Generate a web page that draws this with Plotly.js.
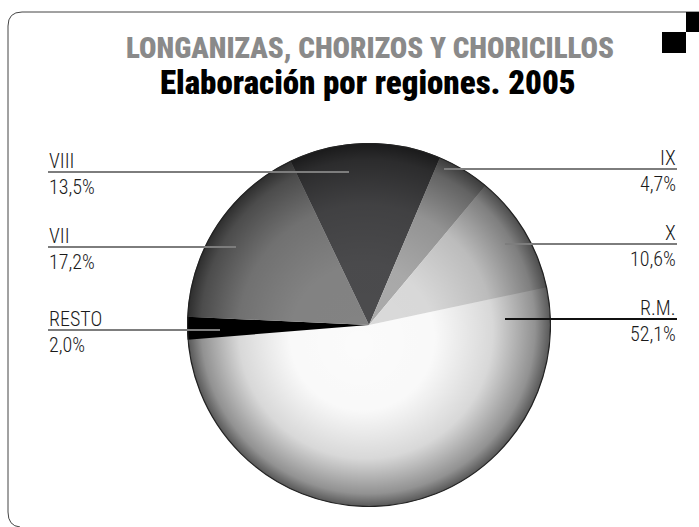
<!DOCTYPE html>
<html><head><meta charset="utf-8">
<script src="https://cdn.plot.ly/plotly-3.0.1.min.js"></script>
<style>html,body{margin:0;padding:0;background:#fff}#chart{width:699px;height:527px}</style>
</head><body><div id="chart"></div><script>
// ---- data ----
const regions = ['R.M.', 'RESTO', 'VII', 'VIII', 'IX', 'X'];
const shares = [52.1, 2.0, 17.2, 13.5, 4.7, 10.6];
const shareLabels = ['52,1%', '2,0%', '17,2%', '13,5%', '4,7%', '10,6%'];
const titleLine1 = 'LONGANIZAS, CHORIZOS Y CHORICILLOS';
const titleLine2 = 'Elaboración por regiones. 2005';

// ---- styles ----
const sliceColors = ['#fbfbfb', '#000000', '#838383', '#4b4b4d', '#aaaaaa', '#dadada'];
const W = 699, H = 527;
const px = x => x / W;
const py = y => 1 - y / H;
const FONT = '"Roboto Condensed", Roboto, sans-serif';

// label placement (pixels): side, y of leader line, inner end x
const labelPlace = {
  'VIII':  {side: 'left',  y: 172, inner: 349, color: '#7d7d7d'},
  'VII':   {side: 'left',  y: 247, inner: 236, color: '#7d7d7d'},
  'RESTO': {side: 'left',  y: 330, inner: 220, color: '#7d7d7d'},
  'IX':    {side: 'right', y: 169, inner: 444, color: '#7d7d7d'},
  'X':     {side: 'right', y: 244, inner: 505, color: '#7d7d7d'},
  'R.M.':  {side: 'right', y: 319, inner: 505, color: '#111111'}
};
const LEFT_X = 48, RIGHT_X = 677;

const cx = 369, cy = 325, R = 182;

const shapes = [];
const annotations = [];
regions.forEach((reg, i) => {
  const p = labelPlace[reg];
  const outer = p.side === 'left' ? LEFT_X : RIGHT_X;
  shapes.push({type: 'line', xref: 'paper', yref: 'paper',
    x0: px(outer), x1: px(p.inner), y0: py(p.y), y1: py(p.y),
    line: {color: p.color, width: 2}});
  const anchor = p.side === 'left' ? 'left' : 'right';
  annotations.push({xref: 'paper', yref: 'paper', x: px(outer), y: py(p.y + 2),
    xanchor: anchor, yanchor: 'bottom', showarrow: false, text: reg,
    font: {family: FONT, size: 20, weight: 300, color: '#1a1a1a'}, borderpad: 0});
  annotations.push({xref: 'paper', yref: 'paper', x: px(outer), y: py(p.y + 2),
    xanchor: anchor, yanchor: 'top', showarrow: false, text: shareLabels[i],
    font: {family: FONT, size: 20, weight: 300, color: '#1a1a1a'}, borderpad: 0});
});

// titles
annotations.push({xref: 'paper', yref: 'paper', x: px(370), y: py(48), xanchor: 'center', yanchor: 'middle',
  showarrow: false, text: titleLine1, font: {family: FONT, size: 29, weight: 900, color: '#8a8a8a'}});
annotations.push({xref: 'paper', yref: 'paper', x: px(368), y: py(83), xanchor: 'center', yanchor: 'middle',
  showarrow: false, text: titleLine2, font: {family: FONT, size: 33, weight: 900, color: '#000'}});

// frame with rounded corners
const framePath = `M ${px(699)} ${py(12)} L ${px(22)} ${py(12)} Q ${px(8)} ${py(12)} ${px(8)} ${py(26)} L ${px(8)} ${py(512)} Q ${px(8)} ${py(526)} ${px(20)} ${py(527)}`;
shapes.push({type: 'path', xref: 'paper', yref: 'paper', path: framePath, line: {color: '#444', width: 1}});
// corner squares
shapes.push({type: 'rect', xref: 'paper', yref: 'paper', x0: px(686), x1: px(699), y0: py(12), y1: py(32), fillcolor: '#000', line: {width: 0}});
shapes.push({type: 'rect', xref: 'paper', yref: 'paper', x0: px(662), x1: px(686), y0: py(32), y1: py(53), fillcolor: '#000', line: {width: 0}});

// spherical shading overlay
const svg = `<svg xmlns='http://www.w3.org/2000/svg' width='364' height='364' viewBox='0 0 364 364'><defs><radialGradient id='g' cx='0.5' cy='0.5' r='0.5' fx='0.47' fy='0.56'><stop offset='0' stop-color='#000' stop-opacity='0'/><stop offset='0.4' stop-color='#000' stop-opacity='0.01'/><stop offset='0.7' stop-color='#000' stop-opacity='0.14'/><stop offset='0.92' stop-color='#000' stop-opacity='0.42'/><stop offset='1' stop-color='#000' stop-opacity='0.65'/></radialGradient></defs><circle cx='182' cy='182' r='181.5' fill='url(#g)' stroke='#222' stroke-width='1.2'/></svg>`;
const images = [{source: 'data:image/svg+xml;charset=utf-8,' + encodeURIComponent(svg),
  xref: 'paper', yref: 'paper', x: px(cx - R), y: py(cy - R), sizex: 2 * R / W, sizey: 2 * R / H,
  xanchor: 'left', yanchor: 'top', sizing: 'stretch', layer: 'above'}];

const trace = {
  type: 'pie', values: shares, labels: regions, sort: false, direction: 'clockwise', rotation: 78,
  marker: {colors: sliceColors, line: {width: 0}}, textinfo: 'none', hoverinfo: 'none',
  domain: {x: [px(cx - R), px(cx + R)], y: [py(cy + R), py(cy - R)]}, showlegend: false
};

Plotly.newPlot('chart', [trace], {
  width: W, height: H, margin: {l: 0, r: 0, t: 0, b: 0},
  paper_bgcolor: '#fff', plot_bgcolor: '#fff', showlegend: false,
  shapes: shapes, annotations: annotations, images: images
}, {displayModeBar: false, staticPlot: true});
</script></body></html>
